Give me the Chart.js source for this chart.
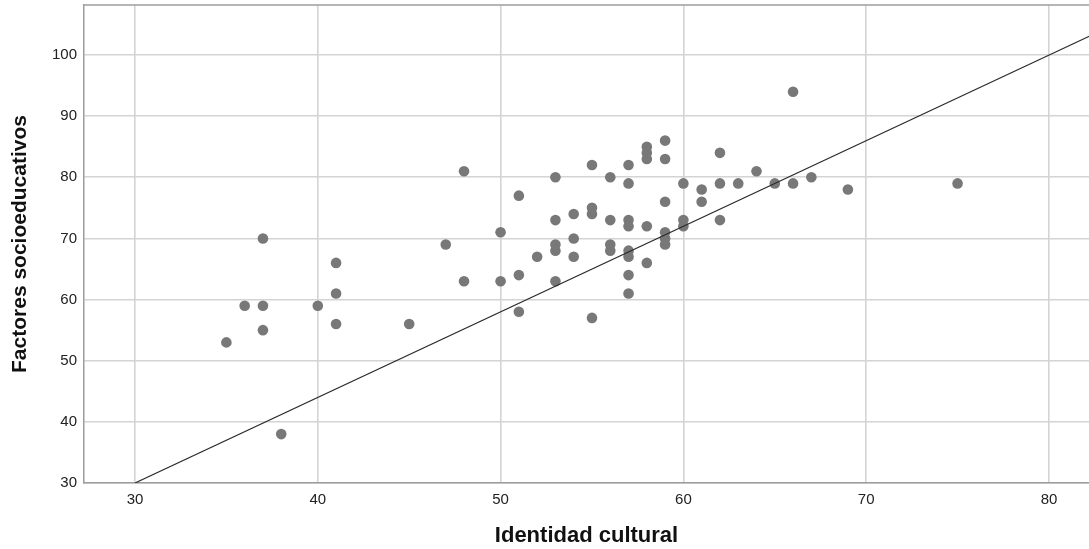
<!DOCTYPE html>
<html>
<head>
<meta charset="utf-8">
<script src="https://cdn.jsdelivr.net/npm/chart.js@4.4.1/dist/chart.umd.min.js"></script>
<style>
  html, body { margin: 0; padding: 0; background: #fff; }
  #wrap { width: 1089px; height: 549px; }
</style>
</head>
<body>
<div id="wrap"><canvas id="c"></canvas></div>
<script>
// Identidad cultural (x) vs Factores socioeducativos (y)
const identidad = [
  35, 36, 37, 37, 37, 38, 40, 41, 41, 41, 45, 47, 48, 48, 50, 50, 51, 51, 51, 52,
  53, 53, 53, 53, 53, 54, 54, 54, 55, 55, 55, 55, 56, 56, 56, 56,
  57, 57, 57, 57, 57, 57, 57, 57, 58, 58, 58, 58, 58,
  59, 59, 59, 59, 59, 59, 60, 60, 60, 61, 61, 62, 62, 62, 63, 64, 65, 66, 66, 67, 69, 75
];
const factores = [
  53, 59, 70, 59, 55, 38, 59, 66, 61, 56, 56, 69, 81, 63, 71, 63, 77, 64, 58, 67,
  80, 73, 69, 68, 63, 74, 70, 67, 82, 75, 74, 57, 80, 73, 69, 68,
  82, 79, 73, 72, 68, 67, 64, 61, 85, 84, 83, 72, 66,
  86, 83, 76, 71, 70, 69, 79, 73, 72, 78, 76, 84, 79, 73, 79, 81, 79, 94, 79, 80, 78, 79
];
// recta de ajuste (extremos)
const fitX = [30, 82.3];
const fitY = [30, 103.2];

const xTicks = [30, 40, 50, 60, 70, 80];
const yTicks = [30, 40, 50, 60, 70, 80, 90, 100];

const FONT = "'Liberation Sans', Arial, sans-serif";

const frameTop = {
  id: 'frameTop',
  afterDraw(chart) {
    const { ctx, chartArea } = chart;
    ctx.save();
    ctx.strokeStyle = '#9c9c9c';
    ctx.lineWidth = 1.5;
    ctx.beginPath();
    ctx.moveTo(chartArea.left, chartArea.top);
    ctx.lineTo(chartArea.right, chartArea.top);
    ctx.stroke();
    ctx.restore();
  }
};

new Chart(document.getElementById('c').getContext('2d'), {
  type: 'scatter',
  data: {
    datasets: [
      {
        type: 'line',
        data: fitX.map((x, i) => ({ x, y: fitY[i] })),
        borderColor: '#2b2b2b', borderWidth: 1.2,
        pointRadius: 0, pointHoverRadius: 0, fill: false, order: 0,
      },
      {
        data: identidad.map((x, i) => ({ x, y: factores[i] })),
        backgroundColor: '#787878', borderColor: '#787878', borderWidth: 0,
        pointRadius: 5.3, order: 1,
      },
    ],
  },
  options: {
    responsive: true, maintainAspectRatio: false, animation: false,
    layout: { autoPadding: false, padding: { top: 5, right: 0, left: 0, bottom: 0 } },
    plugins: { legend: { display: false }, tooltip: { enabled: false } },
    scales: {
      x: {
        type: 'linear', min: 27.21, max: 82.19,
        afterBuildTicks: (s) => { s.ticks = xTicks.map((v) => ({ value: v })); },
        afterFit: (s) => { s.height = 66; s.paddingLeft = 0; s.paddingRight = 0; },
        grid: { color: '#d4d4d4', lineWidth: 1.6, drawTicks: false },
        border: { display: true, color: '#9c9c9c', width: 1.5 },
        ticks: { padding: 8, color: '#222', font: { family: FONT, size: 15 } },
        title: { display: true, text: 'Identidad cultural', color: '#111', padding: { top: 0, bottom: 0 },
                 font: { family: FONT, size: 22, weight: 'bold' } },
      },
      y: {
        type: 'linear', min: 30, max: 108.18,
        afterBuildTicks: (s) => { s.ticks = yTicks.map((v) => ({ value: v })); },
        afterFit: (s) => { s.width = 84; s.paddingTop = 0; s.paddingBottom = 0; },
        grid: { color: '#d4d4d4', lineWidth: 1.6, drawTicks: false },
        border: { display: true, color: '#9c9c9c', width: 1.5 },
        ticks: { padding: 7, color: '#222', font: { family: FONT, size: 15 } },
        title: { display: true, text: 'Factores socioeducativos', color: '#111', padding: { top: 8, bottom: 0 },
                 font: { family: FONT, size: 21, weight: 'bold' } },
      },
    },
  },
  plugins: [frameTop],
});
</script>
</body>
</html>
